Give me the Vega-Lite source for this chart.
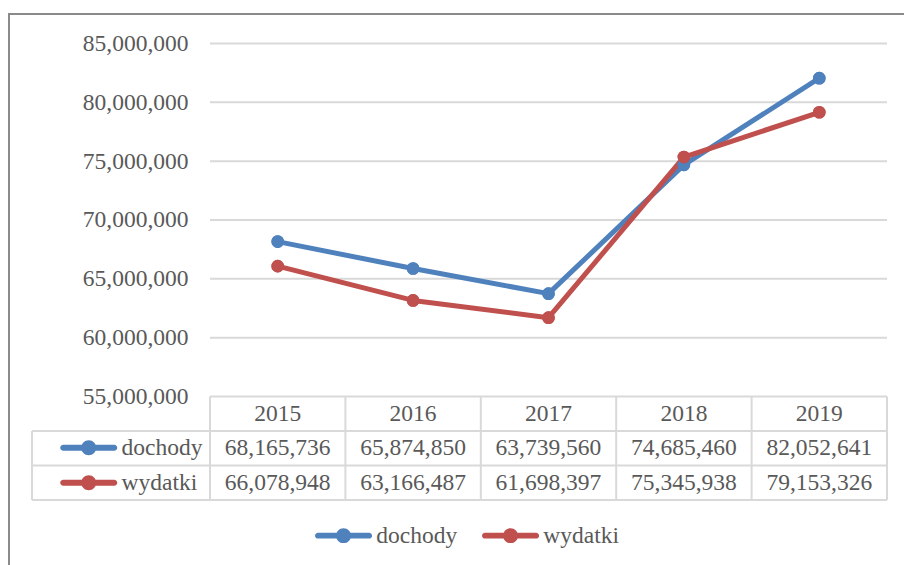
{
  "$schema": "https://vega.github.io/schema/vega-lite/v6.json",
  "width": 904,
  "height": 565,
  "autosize": {"type": "fit", "contains": "padding"},
  "padding": {"left": 9, "top": 14, "right": -4, "bottom": -4},
  "background": "white",
  "config": {"view": {"stroke": "#8a8a8a", "strokeWidth": 2}, "font": "Liberation Serif"},
  "datasets": {
    "vals": [
      {"year": "2015", "series": "dochody", "value": 68165736},
      {"year": "2016", "series": "dochody", "value": 65874850},
      {"year": "2017", "series": "dochody", "value": 63739560},
      {"year": "2018", "series": "dochody", "value": 74685460},
      {"year": "2019", "series": "dochody", "value": 82052641},
      {"year": "2015", "series": "wydatki", "value": 66078948},
      {"year": "2016", "series": "wydatki", "value": 63166487},
      {"year": "2017", "series": "wydatki", "value": 61698397},
      {"year": "2018", "series": "wydatki", "value": 75345938},
      {"year": "2019", "series": "wydatki", "value": 79153326}
    ],
    "grid": [
      {"v": 55000000}, {"v": 60000000}, {"v": 65000000}, {"v": 70000000},
      {"v": 75000000}, {"v": 80000000}, {"v": 85000000}
    ]
  },
  "resolve": {
    "scale": {"y": "independent", "color": "independent"},
    "axis": {"y": "independent"},
    "legend": {"color": "independent"}
  },
  "layer": [
    {
      "data": {"name": "grid"},
      "mark": {"type": "rule", "color": "#d9d9d9", "strokeWidth": 2},
      "encoding": {
        "y": {
          "field": "v", "type": "quantitative",
          "scale": {"domain": [40340000, 87507000], "nice": false, "zero": false},
          "axis": {
            "orient": "left", "offset": -201, "values": [55000000, 60000000, 65000000, 70000000, 75000000, 80000000, 85000000],
            "format": ",d", "grid": false, "domain": false, "ticks": false, "tickSize": 0,
            "labelPadding": 22, "labelFont": "Liberation Serif", "labelFontSize": 23.5, "labelColor": "#595959",
            "title": null, "minExtent": 0
          }
        },
        "x": {
          "datum": "2015", "type": "nominal", "bandPosition": 0,
          "scale": {"type": "band", "domain": ["2015", "2016", "2017", "2018", "2019"], "paddingInner": 0, "paddingOuter": 0.8198, "align": 0.9054},
          "axis": null
        },
        "x2": {"datum": "2019", "bandPosition": 1}
      }
    },
    {
      "data": {"name": "vals"},
      "mark": {"type": "line", "strokeWidth": 5, "strokeJoin": "round", "strokeCap": "round"},
      "encoding": {
        "x": {"field": "year", "type": "nominal", "axis": null},
        "y": {"field": "value", "type": "quantitative", "scale": {"domain": [40340000, 87507000], "nice": false, "zero": false}, "axis": null},
        "color": {"field": "series", "type": "nominal", "scale": {"domain": ["dochody", "wydatki"], "range": ["#4f81bd", "#c0504d"]}, "legend": null}
      }
    },
    {
      "data": {"name": "vals"},
      "mark": {"type": "point", "filled": true, "size": 160, "opacity": 1, "shape": "circle"},
      "encoding": {
        "x": {"field": "year", "type": "nominal", "axis": null},
        "y": {"field": "value", "type": "quantitative", "scale": {"domain": [40340000, 87507000], "nice": false, "zero": false}, "axis": null},
        "color": {
          "field": "series", "type": "nominal",
          "scale": {"domain": ["dochody", "wydatki"], "range": ["#4f81bd", "#c0504d"]},
          "legend": {
            "orient": "none", "legendX": 322.8, "legendY": 509.5, "direction": "horizontal", "title": null,
            "symbolType": "M-2.22,-0.26 L2.22,-0.26 A0.26,0.26 0 0,1 2.22,0.26 L-2.22,0.26 A0.26,0.26 0 0,1 -2.22,-0.26 Z M-0.65,0 A0.65,0.65 0 1,1 0.65,0 A0.65,0.65 0 1,1 -0.65,0 Z",
            "symbolSize": 529, "symbolStrokeWidth": 0, "labelOffset": 21, "columnPadding": 24,
            "labelFont": "Liberation Serif", "labelFontSize": 23.5, "labelColor": "#595959"
          }
        }
      }
    },
    {
      "data": {"name": "vals"},
      "mark": {"type": "point", "filled": true, "size": 160, "opacity": 1, "shape": "circle"},
      "encoding": {
        "x": {"field": "year", "type": "nominal", "axis": null},
        "y": {"field": "value", "type": "quantitative", "scale": {"domain": [40340000, 87507000], "nice": false, "zero": false}, "axis": null},
        "color": {
          "field": "series", "type": "nominal",
          "scale": {"domain": ["dochody", "wydatki"], "range": ["#4f81bd", "#c0504d"]},
          "legend": {
            "orient": "none", "legendX": 68, "legendY": 422, "direction": "vertical", "title": null,
            "symbolType": "M-2.22,-0.26 L2.22,-0.26 A0.26,0.26 0 0,1 2.22,0.26 L-2.22,0.26 A0.26,0.26 0 0,1 -2.22,-0.26 Z M-0.65,0 A0.65,0.65 0 1,1 0.65,0 A0.65,0.65 0 1,1 -0.65,0 Z",
            "symbolSize": 529, "symbolStrokeWidth": 0, "labelOffset": 21, "rowPadding": 10,
            "labelFont": "Liberation Serif", "labelFontSize": 23.5, "labelColor": "#595959"
          }
        }
      }
    },
    {
      "data": {"name": "vals"},
      "transform": [{"filter": "datum.year == '2015'"}],
      "mark": {"type": "rule", "color": "#d9d9d9", "strokeWidth": 2},
      "encoding": {
        "y": {"field": "series", "type": "nominal", "bandPosition": 0, "scale": {"type": "band", "domain": ["header", "dochody", "wydatki"], "paddingInner": 0, "paddingOuter": 0, "range": [382.5, 486]}, "axis": null},
        "x": {"datum": "2015", "type": "nominal", "bandPosition": -1.3146, "axis": null},
        "x2": {"datum": "2019", "bandPosition": 1}
      }
    },
    {
      "data": {"name": "vals"},
      "transform": [{"filter": "datum.year == '2015' && datum.series == 'wydatki'"}],
      "mark": {"type": "rule", "color": "#d9d9d9", "strokeWidth": 2},
      "encoding": {
        "y": {"field": "series", "type": "nominal", "bandPosition": 1, "scale": {"type": "band", "domain": ["header", "dochody", "wydatki"], "paddingInner": 0, "paddingOuter": 0, "range": [382.5, 486]}, "axis": null},
        "x": {"datum": "2015", "type": "nominal", "bandPosition": -1.3146, "axis": null},
        "x2": {"datum": "2019", "bandPosition": 1}
      }
    },
    {
      "data": {"name": "vals"},
      "transform": [{"filter": "datum.series == 'dochody'"}],
      "mark": {"type": "rule", "color": "#d9d9d9", "strokeWidth": 2},
      "encoding": {
        "x": {"field": "year", "type": "nominal", "bandPosition": 0, "axis": null},
        "y": {"datum": "header", "type": "nominal", "bandPosition": 0, "scale": {"type": "band", "domain": ["header", "dochody", "wydatki"], "paddingInner": 0, "paddingOuter": 0, "range": [382.5, 486]}, "axis": null},
        "y2": {"datum": "wydatki", "bandPosition": 1}
      }
    },
    {
      "data": {"name": "vals"},
      "transform": [{"filter": "datum.series == 'dochody' && datum.year == '2019'"}],
      "mark": {"type": "rule", "color": "#d9d9d9", "strokeWidth": 2},
      "encoding": {
        "x": {"field": "year", "type": "nominal", "bandPosition": 1, "axis": null},
        "y": {"datum": "header", "type": "nominal", "bandPosition": 0, "scale": {"type": "band", "domain": ["header", "dochody", "wydatki"], "paddingInner": 0, "paddingOuter": 0, "range": [382.5, 486]}, "axis": null},
        "y2": {"datum": "wydatki", "bandPosition": 1}
      }
    },
    {
      "data": {"name": "vals"},
      "transform": [{"filter": "datum.series == 'dochody' && datum.year == '2015'"}],
      "mark": {"type": "rule", "color": "#d9d9d9", "strokeWidth": 2},
      "encoding": {
        "x": {"field": "year", "type": "nominal", "bandPosition": -1.3146, "axis": null},
        "y": {"datum": "dochody", "type": "nominal", "bandPosition": 0, "scale": {"type": "band", "domain": ["header", "dochody", "wydatki"], "paddingInner": 0, "paddingOuter": 0, "range": [382.5, 486]}, "axis": null},
        "y2": {"datum": "wydatki", "bandPosition": 1}
      }
    },
    {
      "data": {"name": "vals"},
      "transform": [{"filter": "datum.series == 'dochody'"}],
      "mark": {"type": "text", "font": "Liberation Serif", "fontSize": 23.5, "color": "#595959", "baseline": "middle", "align": "center"},
      "encoding": {
        "x": {"field": "year", "type": "nominal", "axis": null},
        "y": {"datum": "header", "type": "nominal", "scale": {"type": "band", "domain": ["header", "dochody", "wydatki"], "paddingInner": 0, "paddingOuter": 0, "range": [382.5, 486]}, "axis": null},
        "text": {"field": "year", "type": "nominal"}
      }
    },
    {
      "data": {"name": "vals"},
      "mark": {"type": "text", "font": "Liberation Serif", "fontSize": 23.5, "color": "#595959", "baseline": "middle", "align": "center"},
      "encoding": {
        "x": {"field": "year", "type": "nominal", "axis": null},
        "y": {"field": "series", "type": "nominal", "scale": {"type": "band", "domain": ["header", "dochody", "wydatki"], "paddingInner": 0, "paddingOuter": 0, "range": [382.5, 486]}, "axis": null},
        "text": {"field": "value", "type": "quantitative", "format": ",d"}
      }
    }
  ]
}
